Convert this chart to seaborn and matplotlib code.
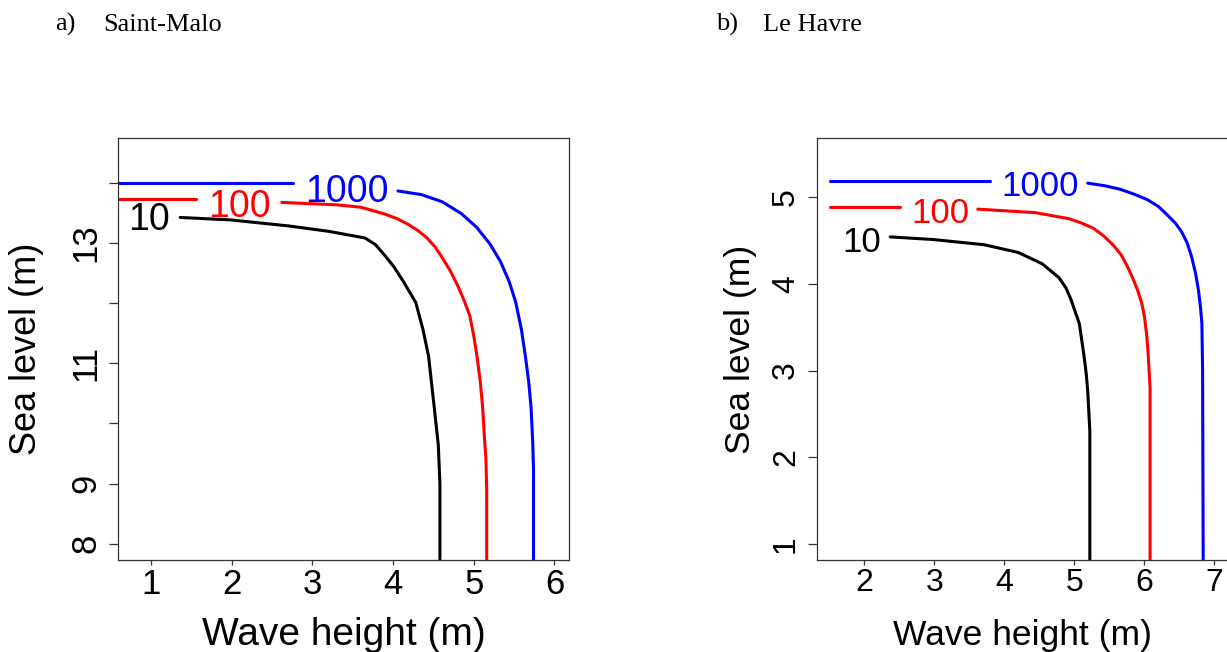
import numpy as np
import pandas as pd
import matplotlib
matplotlib.use('Agg')
import matplotlib.pyplot as plt
import seaborn as sns

# Style
sns.set_style('white')
plt.rcParams['font.family'] = ['Liberation Sans', 'DejaVu Sans']
plt.rcParams['text.color'] = 'black'
plt.rcParams['axes.labelcolor'] = 'black'
plt.rcParams['xtick.color'] = 'black'
plt.rcParams['ytick.color'] = 'black'

# ---------------- data ----------------
# a) Saint-Malo : return-period contours (10, 100, 1000 years)
sm_levels = ['10', '100', '1000']
sm_x_10 = [1.36, 1.98, 2.70, 3.20, 3.65, 3.78, 3.89, 4.01, 4.13, 4.28, 4.37, 4.44, 4.51, 4.56, 4.58, 4.58]
sm_y_10 = [13.42, 13.38, 13.28, 13.19, 13.08, 12.97, 12.80, 12.60, 12.35, 12.01, 11.56, 11.11, 10.26, 9.64, 9.00, 7.50]
sm_x_100_left = [0.50, 1.56]
sm_y_100_left = [13.72, 13.72]
sm_x_100 = [2.62, 3.30, 3.60, 3.89, 4.05, 4.18, 4.31, 4.42, 4.52, 4.61, 4.71, 4.80, 4.88, 4.95,
            5.00, 5.04, 5.08, 5.11, 5.13, 5.15, 5.16, 5.16]
sm_y_100 = [13.67, 13.63, 13.59, 13.48, 13.40, 13.31, 13.20, 13.08, 12.93, 12.75, 12.53, 12.29, 12.04, 11.79,
            11.45, 11.11, 10.70, 10.26, 9.80, 9.41, 8.90, 7.50]
sm_x_1000_left = [0.50, 2.76]
sm_y_1000_left = [14.00, 14.00]
sm_x_1000 = [4.06, 4.35, 4.61, 4.85, 5.04, 5.20, 5.33, 5.44, 5.52, 5.59, 5.64, 5.68, 5.71, 5.73, 5.74, 5.74]
sm_y_1000 = [13.86, 13.80, 13.68, 13.48, 13.25, 12.98, 12.69, 12.35, 12.01, 11.56, 11.11, 10.70, 10.26, 9.70, 9.24, 7.50]
sm_label_x = [0.98, 2.10, 3.43]
sm_label_y = [13.44, 13.66, 13.91]
sm_xticks = [1, 2, 3, 4, 5, 6]
sm_yticks = [8, 9, 10, 11, 12, 13, 14]
sm_yticklabels = ['8', '9', '', '11', '', '13', '']

# b) Le Havre
lh_x_10 = [2.37, 2.98, 3.71, 4.20, 4.54, 4.78, 4.88, 4.95, 5.01, 5.07, 5.14, 5.17, 5.19, 5.22, 5.22]
lh_y_10 = [4.54, 4.51, 4.45, 4.36, 4.23, 4.07, 3.95, 3.82, 3.68, 3.54, 3.15, 2.95, 2.76, 2.30, 0.50]
lh_x_100_left = [1.51, 2.51]
lh_y_100_left = [4.88, 4.88]
lh_x_100 = [3.62, 4.44, 4.92, 5.10, 5.27, 5.42, 5.56, 5.67, 5.75, 5.83, 5.90, 5.96, 6.00, 6.03, 6.05,
            6.08, 6.08]
lh_y_100 = [4.86, 4.82, 4.75, 4.70, 4.64, 4.55, 4.44, 4.33, 4.21, 4.07, 3.93, 3.78, 3.62, 3.42, 3.23,
            2.80, 0.50]
lh_x_1000_left = [1.51, 3.80]
lh_y_1000_left = [5.19, 5.19]
lh_x_1000 = [5.19, 5.43, 5.65, 5.86, 6.04, 6.20, 6.33, 6.44, 6.53, 6.61, 6.67, 6.73, 6.77, 6.80, 6.82,
             6.83, 6.84]
lh_y_1000 = [5.16, 5.13, 5.09, 5.03, 4.97, 4.89, 4.79, 4.70, 4.60, 4.47, 4.32, 4.12, 3.93, 3.73, 3.54,
             3.00, 0.50]
lh_label_x = [1.96, 3.08, 4.51]
lh_label_y = [4.52, 4.85, 5.16]
lh_xticks = [2, 3, 4, 5, 6, 7]
lh_yticks = [1, 2, 3, 4, 5]

colores = {'10': 'black', '100': '#FF0000', '1000': '#0000FF'}


def armar_df(segmentos):
    filas = []
    for nivel, seg, xs, ys in segmentos:
        for i, (xv, yv) in enumerate(zip(xs, ys)):
            filas.append({'x': xv, 'y': yv, 'nivel': nivel, 'seg': seg, 'orden': i})
    return pd.DataFrame(filas)


df_sm = armar_df([
    ('10', 's1', sm_x_10, sm_y_10),
    ('100', 's2', sm_x_100_left, sm_y_100_left),
    ('100', 's3', sm_x_100, sm_y_100),
    ('1000', 's4', sm_x_1000_left, sm_y_1000_left),
    ('1000', 's5', sm_x_1000, sm_y_1000),
])
df_lh = armar_df([
    ('10', 's1', lh_x_10, lh_y_10),
    ('100', 's2', lh_x_100_left, lh_y_100_left),
    ('100', 's3', lh_x_100, lh_y_100),
    ('1000', 's4', lh_x_1000_left, lh_y_1000_left),
    ('1000', 's5', lh_x_1000, lh_y_1000),
])

fig = plt.figure(figsize=(12.27, 6.52), dpi=100)
ax_a = fig.add_axes([118 / 1227, 92 / 652, 451 / 1227, 422 / 652])
ax_b = fig.add_axes([817 / 1227, 92 / 652, 411.5 / 1227, 422 / 652])

# (eje, datos, etiquetas x/y, limites, ticks, tamaños: tick, xlabel, ylabel, contorno, pos ylabel)
paneles = [
    (ax_a, df_sm, sm_label_x, sm_label_y, (0.59, 6.18), (7.73, 14.74), sm_xticks, sm_yticks, sm_yticklabels,
     25, 28, 26, 27, -0.2018),
    (ax_b, df_lh, lh_label_x, lh_label_y, (1.324, 7.2), (0.816, 5.68), lh_xticks, lh_yticks,
     [str(v) for v in lh_yticks], 23, 25.5, 25.5, 25, -0.185),
]

for ax, df, lx, ly, xlim, ylim, xt, yt, ytl, fs_tick, fs_xlab, fs_ylab, fs_cont, ylab_x in paneles:
    sns.lineplot(data=df, x='x', y='y', hue='nivel', units='seg', estimator=None,
                 sort=False, palette=colores, linewidth=2.2, legend=False, ax=ax)
    for nivel, xv, yv in zip(sm_levels, lx, ly):
        ax.text(xv, yv, nivel, color=colores[nivel], fontsize=fs_cont,
                ha='center', va='center_baseline')
    ax.set_xlim(*xlim)
    ax.set_ylim(*ylim)
    ax.set_xticks(xt)
    ax.set_xticklabels([str(v) for v in xt])
    ax.set_yticks(yt)
    ax.set_yticklabels(ytl, rotation=90, va='center')
    ax.tick_params(axis='x', direction='out', length=3.5, width=0.9, pad=2,
                   labelsize=fs_tick, color='#333333', bottom=True)
    ax.tick_params(axis='y', direction='out', length=6.5, width=0.9, pad=5,
                   labelsize=fs_tick, color='#333333', left=True)
    for sp in ax.spines.values():
        sp.set_visible(True)
        sp.set_color('#333333')
        sp.set_linewidth(0.9)
    ax.set_xlabel('Wave height (m)', fontsize=fs_xlab, va='center')
    ax.set_ylabel('Sea level (m)', fontsize=fs_ylab, va='center')
    ax.xaxis.set_label_coords(0.5, -0.178)
    ax.yaxis.set_label_coords(ylab_x, 0.5)

# Titles of the panels
fig.text(55 / 1227, 1 - 31 / 652, 'a)', fontsize=19, family=['Liberation Serif'], va='baseline')
fig.text(103 / 1227, 1 - 31 / 652, 'Saint-Malo', fontsize=19, family=['Liberation Serif'], va='baseline')
fig.text(716 / 1227, 1 - 31 / 652, 'b)', fontsize=19, family=['Liberation Serif'], va='baseline')
fig.text(763 / 1227, 1 - 31 / 652, 'Le Havre', fontsize=19, family=['Liberation Serif'], va='baseline')

fig.savefig('out.png', dpi=100)
